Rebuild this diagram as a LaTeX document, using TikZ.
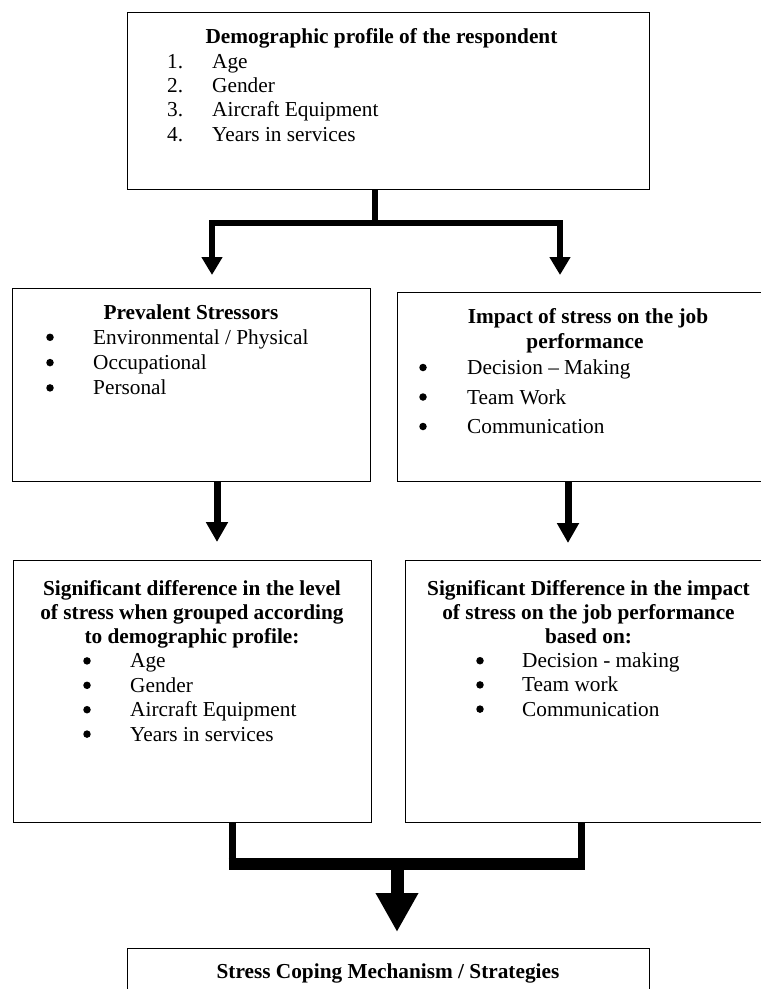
\documentclass[tikz,border=0pt]{standalone}
\usepackage{fontspec}
\setmainfont[Ligatures={TeX,NoCommon}]{Liberation Serif}
\usetikzlibrary{arrows.meta}

\begin{document}
\begin{tikzpicture}[x=1pt,y=-1pt,font=\fontsize{21.3}{25}\selectfont,
  box/.style={draw,line width=1.2pt,inner sep=0pt,anchor=north west},
  ttl/.style={font=\fontsize{21.3}{25}\selectfont\bfseries,anchor=base,inner sep=0pt},
  itm/.style={anchor=base west,inner sep=0pt},
  dot/.style={circle,fill,minimum size=7.5pt,inner sep=0pt},
  stem/.style={line width=5.5pt},
  topflow/.style={line width=5.5pt,{Triangle[width=20pt,length=18pt]}-{Triangle[width=20pt,length=18pt]}},
  midflow/.style={line width=7pt,-{Triangle[width=21pt,length=20pt]}},
  leg/.style={line width=7pt},
  bar/.style={line width=12pt},
  botflow/.style={line width=13pt,-{Triangle[width=40pt,length=39pt]}}]
  \useasboundingbox (0,0) rectangle (761,989);
  \node[box,minimum width=522pt,minimum height=177pt] (demo) at (127,12) {};
  \node[box,minimum width=358pt,minimum height=193pt] (stress) at (12,288) {};
  \node[box,minimum width=372pt,minimum height=189pt] (impact) at (397,292) {};
  \node[box,minimum width=358pt,minimum height=262pt] (sigdemo) at (13,560) {};
  \node[box,minimum width=364pt,minimum height=262pt] (sigimp) at (405,560) {};
  \node[box,minimum width=522pt,minimum height=80pt] (cope) at (127,948) {};
  \node[ttl] (demotitle) at (381.5,43.5) {Demographic profile of the respondent};
  \foreach \t [count=\i] in {Age,Gender,Aircraft Equipment,Years in services}{
    \node[itm] (demonum\i) at (167,{44+24.3*\i}) {\i.};
    \node[itm] (demoitem\i) at (212,{44+24.3*\i}) {\t};}
  \node[ttl] (stresstitle) at (191,319.5) {Prevalent Stressors};
  \foreach \t [count=\i] in {Environmental / Physical,Occupational,Personal}{
    \node[dot] (stressdot\i) at (50,{312+25.3*\i}) {};
    \node[itm] (stressitem\i) at (93,{319+25.3*\i}) {\t};}
  \node[ttl] (impacttitle) at (588,323.5) {Impact of stress on the job};
  \node[ttl] (impacttitleb) at (585,348.5) {performance};
  \foreach \t [count=\i] in {Decision – Making,Team Work,Communication}{
    \node[dot] (impactdot\i) at (423,{338+29.5*\i}) {};
    \node[itm] (impactitem\i) at (467,{345+29.5*\i}) {\t};}
  \foreach \t [count=\i] in {Significant difference in the level,of stress when grouped according,to demographic profile:}
    {\node[ttl] (sigdemotitle\i) at (192,{571+24.3*\i}) {\t};}
  \foreach \t [count=\i] in {Age,Gender,Aircraft Equipment,Years in services}{
    \node[dot] (sigdemodot\i) at (87,{636.5+24.4*\i}) {};
    \node[itm] (sigdemoitem\i) at (130,{643.5+24.4*\i}) {\t};}
  \foreach \t [count=\i] in {Significant Difference in the impact,of stress on the job performance,based on:}
    {\node[ttl] (sigimptitle\i) at (588.5,{571+24.3*\i}) {\t};}
  \foreach \t [count=\i] in {Decision - making,Team work,Communication}{
    \node[dot] (sigimpdot\i) at (480,{636.5+24.2*\i}) {};
    \node[itm] (sigimpitem\i) at (522,{643.5+24.2*\i}) {\t};}
  \node[ttl] (copetitle) at (388,978.5) {Stress Coping Mechanism / Strategies};
  \coordinate (fork) at (375,223);
  \coordinate (tl) at (212,275);
  \coordinate (tr) at (560,275);
  \draw[stem] (demo.south -| fork) -- (fork);
  \draw[topflow] (tl) |- (fork) -| (tr);
  \coordinate (ml) at (217,542);
  \coordinate (mr) at (568,543);
  \draw[midflow] (stress.south -| ml) -- (ml);
  \draw[midflow] (impact.south -| mr) -- (mr);
  \coordinate (jl) at (232,864);
  \coordinate (jr) at (581,864);
  \coordinate (join) at (397,864);
  \coordinate (ct) at (397,932);
  \draw[leg] (sigdemo.south -| jl) -- (jl);
  \draw[leg] (sigimp.south -| jr) -- (jr);
  \draw[bar] ([xshift=-3.5pt]jl) -- ([xshift=3.5pt]jr);
  \draw[botflow] (join) -- (ct);
\end{tikzpicture}
\end{document}
